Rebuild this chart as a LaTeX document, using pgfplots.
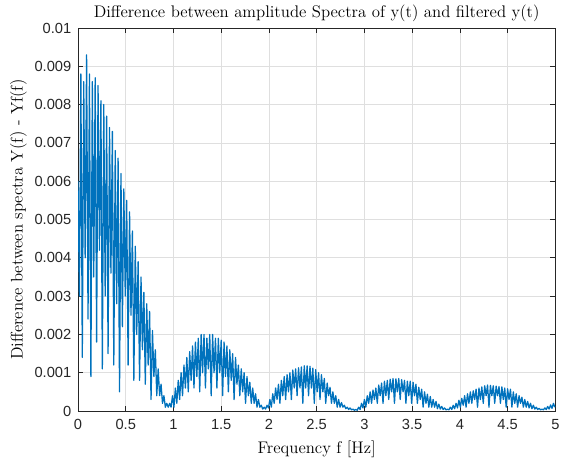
\documentclass[border=0pt]{standalone}
\usepackage{fontspec}
\usepackage{pgfplots}
\pgfplotsset{compat=1.18}
\newfontfamily\helv{Liberation Sans}
\definecolor{mblue}{rgb}{0,0.447,0.741}
\definecolor{axgray}{rgb}{0.15,0.15,0.15}
\definecolor{gridgray}{rgb}{0.875,0.875,0.875}
\begin{document}
\begin{tikzpicture}
\begin{axis}[
  scale only axis,
  width=358pt, height=287.25pt,
  xmin=0, xmax=5, ymin=0, ymax=0.01,
  xtick={0,0.5,1,1.5,2,2.5,3,3.5,4,4.5,5},
  xticklabels={0,0.5,1,1.5,2,2.5,3,3.5,4,4.5,5},
  ytick={0,0.001,0.002,0.003,0.004,0.005,0.006,0.007,0.008,0.009,0.01},
  yticklabels={0,0.001,0.002,0.003,0.004,0.005,0.006,0.007,0.008,0.009,0.01},
  scaled y ticks=false,
  tick label style={font=\helv\fontsize{11}{13}\selectfont, text=axgray},
  xticklabel style={yshift=-3pt},
  yticklabel style={xshift=-1.5pt},
  tick align=inside,
  major tick length=4pt,
  every tick/.style={axgray, line width=0.5pt},
  axis line style={axgray, line width=0.5pt},
  grid=major,
  major grid style={gridgray, line width=0.5pt},
  title={Difference between amplitude Spectra of y(t) and filtered y(t)},
  title style={font=\fontsize{12.6}{14}\selectfont, yshift=-4.5pt},
  xlabel={Frequency f [Hz]},
  xlabel style={font=\fontsize{12.6}{14}\selectfont, yshift=-1pt},
  ylabel={Difference between spectra Y(f) - Yf(f)},
  ylabel style={font=\fontsize{12.6}{14}\selectfont, yshift=-1pt},
]
\addplot[mblue, line width=0.95pt, line join=round, no markers] table {
x y
0.000 0.0060
0.015 0.0030
0.030 0.0088
0.045 0.0014
0.060 0.0086
0.075 0.0040
0.090 0.0093
0.105 0.0024
0.120 0.0088
0.135 0.0009
0.150 0.0086
0.165 0.0035
0.180 0.0087
0.195 0.0018
0.210 0.0085
0.225 0.0042
0.240 0.0081
0.255 0.0011
0.270 0.0080
0.285 0.0030
0.300 0.0077
0.315 0.0015
0.330 0.0074
0.345 0.0036
0.360 0.0073
0.375 0.0012
0.390 0.0068
0.405 0.0028
0.420 0.0066
0.435 0.0005
0.450 0.0062
0.465 0.0022
0.480 0.0058
0.495 0.0030
0.510 0.0055
0.525 0.0012
0.540 0.0052
0.555 0.0025
0.570 0.0047
0.585 0.0008
0.600 0.0043
0.615 0.0020
0.630 0.0039
0.645 0.0008
0.660 0.0035
0.675 0.0016
0.690 0.0031
0.705 0.0007
0.720 0.0028
0.735 0.0012
0.750 0.0026
0.765 0.0003
0.780 0.0021
0.795 0.0009
0.810 0.0016
0.825 0.0004
0.840 0.0011
0.855 0.0004
0.870 0.0007
0.885 0.0002
0.900 0.0004
0.915 0.0001
0.930 0.0002
0.945 0.0001
0.960 0.0002
0.975 0.0001
0.990 0.0004
1.005 0.0001
1.020 0.0006
1.035 0.0002
1.050 0.0008
1.065 0.0003
1.080 0.0010
1.095 0.0004
1.110 0.0012
1.125 0.0006
1.140 0.0014
1.155 0.0005
1.170 0.00155
1.185 0.0008
1.200 0.0017
1.215 0.0006
1.230 0.0018
1.245 0.0009
1.260 0.0019
1.275 0.0005
1.290 0.0020
1.305 0.0010
1.320 0.0020
1.335 0.0006
1.350 0.0019
1.365 0.0011
1.380 0.0020
1.395 0.0004
1.410 0.0020
1.425 0.0010
1.440 0.0019
1.455 0.0006
1.470 0.0019
1.485 0.0010
1.500 0.00185
1.515 0.0004
1.530 0.0018
1.545 0.0009
1.560 0.0017
1.575 0.0005
1.590 0.0016
1.605 0.0008
1.620 0.0015
1.635 0.0003
1.650 0.0014
1.665 0.0007
1.680 0.0012
1.695 0.0004
1.710 0.0011
1.725 0.0005
1.740 0.0010
1.755 0.0002
1.770 0.0009
1.785 0.0004
1.800 0.00075
1.815 0.0002
1.830 0.0006
1.845 0.0002
1.860 0.00045
1.875 0.0001
1.890 0.0003
1.905 0.0001
1.920 0.00015
1.935 0.00005
1.950 0.0001
1.965 0.00005
1.980 0.00015
1.995 0.00008
2.010 0.0003
2.025 0.0001
2.040 0.00045
2.055 0.0002
2.070 0.0006
2.085 0.0003
2.100 0.0007
2.115 0.0002
2.130 0.0008
2.145 0.0004
2.160 0.0009
2.175 0.0003
2.190 0.00095
2.205 0.0005
2.220 0.0010
2.235 0.0003
2.250 0.00107
2.265 0.0006
2.280 0.0011
2.295 0.0004
2.310 0.00113
2.325 0.0006
2.340 0.00115
2.355 0.0002
2.370 0.00118
2.385 0.0006
2.400 0.00118
2.415 0.0004
2.430 0.00117
2.445 0.0006
2.460 0.00112
2.475 0.0002
2.490 0.00108
2.505 0.0005
2.520 0.0010
2.535 0.0003
2.550 0.00095
2.565 0.0005
2.580 0.00085
2.595 0.0002
2.610 0.00073
2.625 0.0004
2.640 0.00062
2.655 0.0002
2.670 0.0005
2.685 0.0002
2.700 0.0004
2.715 0.0001
2.730 0.0003
2.745 0.0001
2.760 0.00022
2.775 0.0001
2.790 0.00015
2.805 0.00006
2.820 0.0001
2.835 0.00004
2.850 0.00008
2.865 0.00003
2.880 0.00005
2.895 0.00002
2.910 0.00004
2.925 0.00002
2.940 0.0001
2.955 0.00004
2.970 0.0002
2.985 0.00008
3.000 0.0003
3.015 0.0001
3.030 0.0004
3.045 0.0002
3.060 0.0005
3.075 0.0002
3.090 0.00055
3.105 0.0003
3.120 0.0006
3.135 0.0002
3.150 0.00068
3.165 0.0004
3.180 0.00073
3.195 0.0002
3.210 0.00078
3.225 0.0004
3.240 0.0008
3.255 0.0003
3.270 0.00083
3.285 0.0005
3.300 0.00085
3.315 0.0002
3.330 0.00084
3.345 0.0005
3.360 0.00085
3.375 0.0003
3.390 0.00082
3.405 0.0005
3.420 0.0008
3.435 0.0002
3.450 0.00078
3.465 0.0004
3.480 0.00078
3.495 0.0002
3.510 0.00075
3.525 0.0004
3.540 0.0007
3.555 0.0002
3.570 0.00062
3.585 0.0003
3.600 0.00057
3.615 0.0001
3.630 0.0005
3.645 0.0002
3.660 0.00044
3.675 0.0001
3.690 0.00038
3.705 0.0001
3.720 0.0003
3.735 0.0001
3.750 0.00025
3.765 0.00006
3.780 0.00018
3.795 0.00005
3.810 0.00012
3.825 0.00004
3.840 0.00008
3.855 0.00003
3.870 0.00005
3.885 0.00003
3.900 0.0001
3.915 0.00004
3.930 0.00015
3.945 0.00006
3.960 0.0002
3.975 0.00008
3.990 0.00028
4.005 0.0001
4.020 0.00033
4.035 0.00015
4.050 0.0004
4.065 0.0001
4.080 0.00045
4.095 0.0002
4.110 0.0005
4.125 0.0002
4.140 0.00053
4.155 0.0003
4.170 0.00057
4.185 0.0001
4.200 0.0006
4.215 0.0003
4.230 0.00063
4.245 0.0002
4.260 0.00066
4.275 0.0004
4.290 0.00068
4.305 0.0001
4.320 0.00067
4.335 0.0004
4.350 0.00066
4.365 0.0002
4.380 0.00065
4.395 0.0004
4.410 0.00064
4.425 0.0002
4.440 0.00063
4.455 0.0003
4.470 0.0006
4.485 0.0001
4.500 0.00058
4.515 0.0003
4.530 0.00057
4.545 0.0001
4.560 0.0005
4.575 0.0002
4.590 0.00045
4.605 0.0001
4.620 0.0004
4.635 0.0002
4.650 0.00036
4.665 0.0001
4.680 0.0003
4.695 0.0001
4.710 0.00025
4.725 0.00008
4.740 0.0002
4.755 0.00006
4.770 0.00015
4.785 0.00005
4.800 0.0001
4.815 0.00004
4.830 0.00007
4.845 0.00003
4.860 0.00005
4.875 0.00003
4.890 0.00008
4.905 0.00004
4.920 0.00012
4.935 0.00005
4.950 0.00016
4.965 0.00007
4.980 0.0002
4.995 0.0001
};
\end{axis}
\path (current axis.south west) ++(-58.5pt,-38.25pt) coordinate (bbA);
\path (current axis.north east) ++(5pt,21pt) coordinate (bbB);
\pgfresetboundingbox
\path[use as bounding box] (bbA) rectangle (bbB);
\end{tikzpicture}
\end{document}
